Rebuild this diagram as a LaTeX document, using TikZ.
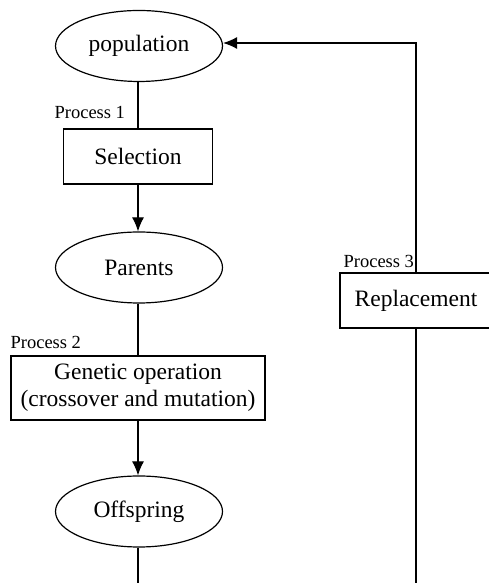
\documentclass[tikz,border=0pt]{standalone}
\usepackage{fontspec}
\setmainfont{Liberation Serif}
\usetikzlibrary{shapes.geometric,arrows.meta}

\tikzset{
  stage/.style={draw, ellipse, inner sep=0pt, minimum width=167pt, minimum height=71pt, font=\fontsize{23.5}{27}\selectfont},
  proc/.style={draw, rectangle, inner sep=0pt, minimum height=55pt, font=\fontsize{23.5}{27}\selectfont},
  tag/.style={inner sep=0pt, anchor=base west, font=\fontsize{18.5}{20}\selectfont},
  flow/.style={-{Latex[length=14pt,width=12pt]}}
}

\begin{document}
\begin{tikzpicture}[x=1pt, y=1pt, line width=1.2pt]
  \useasboundingbox (0,0) rectangle (489,583);
  \clip (0,0) rectangle (489,583);
  \node[stage] (pop) at (139,537) {population};
  \node[proc, minimum width=149pt] (sel) at (138,426.5) {Selection};
  \node[stage] (par) at (139,315.5) {Parents};
  \node[proc, minimum width=254pt, minimum height=64pt, align=center] (gen) at (138,195) {Genetic operation\\(crossover and mutation)};
  \node[stage] (off) at (139,71.5) {Offspring};
  \node[proc, minimum width=152pt] (rep) at (416,282.5) {Replacement};
  \node[tag] (t1) at (54,464) {Process 1};
  \node[tag] (t2) at (10,234) {Process 2};
  \node[tag] (t3) at (343,315) {Process 3};
  \coordinate (offend) at (138,-2);
  \coordinate (repend) at (416,-2);
  \draw (pop.south -| sel) -- (sel);
  \draw[flow] (sel) -- (par.north -| sel);
  \draw (par.south -| sel) -- (gen);
  \draw[flow] (gen) -- (off.north -| gen);
  \draw (off.south -| gen) -- (offend);
  \draw (repend) -- (rep);
  \draw[flow] (rep.north) |- ([yshift=3pt]pop.east);
\end{tikzpicture}
\end{document}
